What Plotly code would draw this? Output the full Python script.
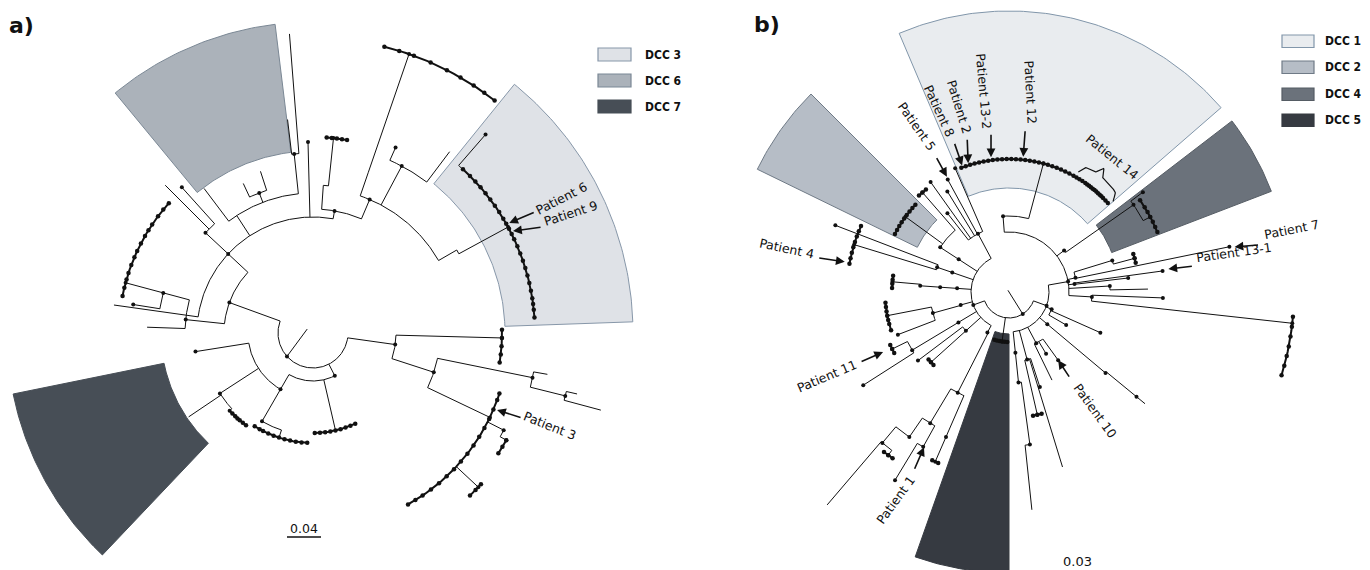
import numpy as np
import plotly.graph_objects as go

# ------------------------------------------------------------------ data
# Panel centres (pixel space of the 1370x570 canvas)
CENTER_A = (313, 333)
CENTER_B = (1009, 292)

# Shaded clade wedges: radius in / out (px), angular extent (deg, counter-clockwise from east)
WEDGE_A_NAMES = ["DCC 3", "DCC 6", "DCC 7"]
WEDGE_A_R_IN = [192, 182, 152]
WEDGE_A_R_OUT = [320, 311, 306]
WEDGE_A_FROM = [2, 97, 191.5]
WEDGE_A_TO = [51, 129.5, 226.5]

WEDGE_B_NAMES = ["DCC 1", "DCC 2", "DCC 4", "DCC 5"]
WEDGE_B_R_IN = [104, 102, 110, 42]
WEDGE_B_R_OUT = [281, 280, 281, 281]
WEDGE_B_FROM = [41, 135, 21, 250.5]
WEDGE_B_TO = [113, 154, 37.5, 270]

# Tree a): node, parent, angle (deg), distance from centre, node dot
TREE_A = [
    ("R", None, 222, 35, 1),
    ("L", "R", 160, 89, 1),
    ("B", "R", 297, 48, 1),
    ("RT", "R", 352, 83, 1),
    ("L2", "L", 174, 128, 1),
    ("L2a", "L2", 165, 155, 1),
    ("L2a1", "L2a", 165, 194, 1),
    ("L2a2", "L2a", 171, 182, 1),
    ("L2b", "L2", 178, 166, 0),
    ("L1", "L", 137, 116, 1),
    ("L1a", "L1", 172, 201, 0),
    ("L1b", "L1", 137, 147, 1),
    ("L1b1", "L1b", 132, 196, 1),
    ("L1b2", "L1b", 135, 209, 0),
    ("L1c", "L1", 123, 140, 0),
    ("L1c1", "L1c", 127, 181, 0),
    ("L1c2", "L1c", 111, 150, 1),
    ("L1c2a", "L1c2", 108, 170, 0),
    ("L1c2b", "L1c2", 115, 165, 0),
    ("L1c3", "L1c", 96, 180, 1),
    ("L1c3a", "L1c3", 94.5, 300, 0),
    ("L1c3b", "L1c3", 96.8, 215, 0),
    ("L1d", "L1", 91.5, 191, 1),
    ("L1e", "L1", 80, 124, 1),
    ("L1e1", "L1e", 86, 148, 0),
    ("L1e1a", "L1e1", 84, 196, 1),
    ("L1e2", "L1e", 67, 145, 1),
    ("T1", "L1e2", 71, 170, 0),
    ("T1a", "T1", 71, 295, 1),
    ("U1", "L1e2", 62, 189, 1),
    ("U1a", "U1", 53, 227, 0),
    ("U1b", "U1", 66, 203, 1),
    ("D3", "L1e2", 30, 166, 0),
    ("D3a", "D3", 28.5, 222, 1),
    ("D3b", "D3a", 49, 263, 1),
    ("B1", "B", 240, 65, 1),
    ("B1a", "B1", 189, 119, 1),
    ("B1b", "B1", 213, 111, 1),
    ("B1b1", "B1b", 214, 150, 0),
    ("B1b2", "B1b", 223, 114, 1),
    ("B1c", "B1", 240, 102, 1),
    ("B1c1", "B1c", 252, 110, 0),
    ("B2", "B", 283, 100, 0),
    ("RT1", "RT", 358.5, 189, 1),
    ("RT2", "RT", 342, 127, 1),
    ("RT2a", "RT2", 348.5, 224, 1),
    ("RT2a1", "RT2a", 350, 238, 0),
    ("RT2a2", "RT2a", 346, 260, 1),
    ("RT2a2a", "RT2a2", 347, 271, 0),
    ("RT2a2b", "RT2a2", 345, 298, 0),
    ("RT2b", "RT2", 334.5, 196, 1),
    ("RT2b1", "RT2b", 333, 214, 1),
    ("RT2b1a", "RT2b1", 331, 221, 1),
    ("RT2b2", "RT2b", 317, 226, 1),
]
CLUSTERS_A = {
    "L2a1": [138, 140.5, 143, 146, 148, 150, 152.5, 155, 157, 159.5, 162, 164, 166.5, 169],
    "L1e1a": [80, 81.5, 83, 84.5, 86],
    "T1a": [52, 54.5, 57, 60, 63, 66.5, 70, 73, 76],
    "D3a": [4, 6, 7.5, 9, 11, 13, 15, 17, 19, 21, 23, 25, 26.5, 28, 29.5, 31, 33, 35, 37,
            39, 41, 43, 45, 47.5],
    "B1b2": [225, 227, 228.5, 230, 232, 234],
    "B1c1": [238, 241, 243, 246, 249, 252, 255, 258, 261, 264, 267],
    "B2": [271, 274, 277, 280, 283, 286, 289, 292, 295],
    "RT1": [351, 353.5, 356, 358.5, 361],
    "RT2b": [299, 301.5, 304, 307, 310, 313, 316, 319, 322, 325, 328, 331, 334, 337, 340, 342],
    "RT2b1a": [327, 329, 331],
    "RT2b2": [314, 316, 318],
}
ROOT_STUB_A = [(146, 7), (222, 35)]

# Tree b)
TREE_B = [
    ("R", None, 302, 26, 1),
    ("W", "R", 200, 38, 1),
    ("E", "R", 340, 40, 1),
    ("R5", "R", 262, 50, 1),
    ("W1", "W", 118, 66, 1),
    ("P5a", "W1", 113.5, 135, 1),
    ("P5b", "W1", 118.6, 128, 1),
    ("P5c", "W1", 121.5, 118, 1),
    ("P5d", "W1", 125.5, 135, 1),
    ("P5e", "W1", 128, 100, 1),
    ("W2", "W", 147, 60, 1),
    ("W2a", "W2", 147, 82, 1),
    ("W2b", "W2a", 144, 128, 1),
    ("W2c", "W2a", 131, 132, 1),
    ("W3", "W", 161, 60, 1),
    ("W3a", "W3", 161, 76, 1),
    ("W3b", "W3a", 163, 162, 1),
    ("W3c", "W3a", 159, 186, 1),
    ("W4", "W", 176, 52, 1),
    ("W4a", "W4", 176, 69, 1),
    ("W4b", "W4a", 176, 89, 1),
    ("W4c", "W4b", 175, 117, 1),
    ("W5", "W", 195, 50, 1),
    ("W5a", "W5", 195.5, 79, 1),
    ("W5b", "W5a", 191, 124, 1),
    ("W5c", "W5a", 201, 119, 1),
    ("W6", "W", 211, 59, 1),
    ("W6a", "W6", 211, 113, 1),
    ("W6b", "W6a", 206, 130, 1),
    ("W6c", "W6a", 212.6, 173, 1),
    ("W7", "W", 222, 58, 1),
    ("W7a", "W7", 217, 114, 1),
    ("W7b", "W7", 222, 105, 1),
    ("W8", "W", 242, 46, 1),
    ("N1", "W8", 243, 113, 1),
    ("N2", "N1", 239, 153, 1),
    ("N3", "N1", 246.5, 158, 1),
    ("N3a", "N3", 246.5, 185, 1),
    ("N4", "N2", 235.5, 176, 1),
    ("N5", "N4", 230, 197, 1),
    ("N5a", "N5", 229.5, 280, 0),
    ("N5b", "N5", 233.5, 203, 1),
    ("N6", "N2", 241, 177, 1),
    ("N6a", "N6", 238.8, 220, 1),
    ("E1", "E", 276, 61, 1),
    ("E1a", "E1", 276, 91, 1),
    ("E1b", "E1a", 277.8, 154, 1),
    ("E1c", "E1b", 276, 219, 0),
    ("E2", "E", 285, 70, 1),
    ("E2a", "E2", 283, 126, 1),
    ("E2b", "E2", 288, 100, 1),
    ("E2c", "E2", 287, 183, 0),
    ("E3", "E", 298, 58, 1),
    ("E3a", "E3", 296, 98, 0),
    ("E3b", "E3", 305.8, 84, 1),
    ("E3c", "E3", 301, 72, 1),
    ("E4", "E", 320, 50, 1),
    ("E4a", "E4", 320, 126, 1),
    ("E4b", "E4a", 320.6, 165, 1),
    ("E4c", "E4b", 320.6, 176, 0),
    ("E5", "E", 338, 46, 1),
    ("E5a", "E5", 336, 100, 1),
    ("E5b", "E5", 330, 66, 1),
    ("NE", "E", 10, 60, 1),
    ("NE1", "NE", 356.6, 83, 1),
    ("NE1a", "NE1", 353.7, 285, 1),
    ("NE1b", "NE1", 357.8, 154, 1),
    ("NE2", "NE", 3.4, 101, 1),
    ("NE2a", "NE2", 1.2, 139, 0),
    ("NE3", "NE", 7, 66, 1),
    ("NE3a", "NE3", 6.7, 120, 1),
    ("P13_1", "NE3", 7.8, 155, 1),
    ("NE4", "NE", 12, 68, 1),
    ("P7", "NE4", 11.6, 225, 1),
    ("NE4b", "NE4", 17, 108, 1),
    ("NE4c", "NE4b", 15, 130, 1),
    ("NE5", "NE", 37, 69, 1),
    ("NE5a", "NE5", 35, 152, 1),
    ("NE5b", "NE5a", 28, 160, 1),
    ("NE5c", "NE5a", 36.7, 167, 1),
    ("U", "NE", 94.5, 76, 1),
    ("D1", "U", 75, 133, 1),
]
CLUSTERS_B = {
    "R5": [253, 256, 259, 262, 265, 268],
    "D1": [42, 43.5, 45, 46, 47, 48, 49, 50, 51, 52, 53, 54, 55, 56.5, 58, 59.5, 61, 63, 65,
           67, 69, 71, 73, 75, 77, 79, 81, 83, 85, 87, 89, 91, 93, 95, 97, 99, 101, 103,
           105, 107, 109, 111],
    "W2b": [137, 139, 141, 143, 145, 147, 149, 151, 153],
    "W2c": [129, 131, 133],
    "W3b": [156, 158, 160, 162, 164, 166, 168, 170],
    "W4c": [172, 174, 176, 178],
    "W5b": [185, 187, 189, 191, 193, 195, 198],
    "W6b": [204, 206, 208],
    "W7b": [220, 222, 224],
    "N5b": [232, 233.5, 235],
    "N3a": [245.5, 247.5],
    "E2a": [281, 283, 285],
    "NE1a": [343, 345, 347, 349, 351, 353, 355],
    "NE4c": [13, 15, 17],
    "NE5b": [22, 24, 26, 28, 30, 32, 35],
}
ROOT_STUB_B = [(122, 2), (302, 26)]

# Patient call-outs: label, arrow head (deg, r)
CALLOUT_A = ["Patient 6", "Patient 9", "Patient 3"]
CALLOUT_A_HEAD = [(29.3, 225), (27.0, 224.5), (337.3, 199.5)]
CALLOUT_B = ["Patient 4", "Patient 5", "Patient 8", "Patient 2", "Patient 13-2", "Patient 12",
             "Patient 7", "Patient 13-1", "Patient 11", "Patient 1", "Patient 10"]
CALLOUT_B_HEAD = [(169.6, 167), (118.3, 131), (110.3, 135), (107.6, 135), (97.6, 136),
                  (84.0, 136), (11.3, 230), (8.2, 161), (205.5, 139.5), (241.3, 177),
                  (305.8, 84)]
BRACE_B = ("Patient 14", 41, 60, 137)  # label, from deg, to deg, base radius

SCALE_A = "0.04"
SCALE_B = "0.03"

# ------------------------------------------------------------------ styles / layout
FILL_A = ["#dfe2e7", "#abb2ba", "#474e56"]
EDGE_A = ["#8797a9", "#7b8895", "#474e56"]
FILL_B = ["#e9ecef", "#b6bdc6", "#6b727b", "#363a41"]
EDGE_B = ["#8196aa", "#6f7a86", "#555c64", "#363a41"]

# callout layout: arrow tail offset, text-centre offset (px, from the arrow head), text angle
CALLOUT_A_TAIL = [(26, -11), (29, -4), (25, 8)]
CALLOUT_A_TEXT = [(52, -24), (57, -18), (52, 16)]
CALLOUT_A_ROT = [-27, -18, 22]
CALLOUT_B_TAIL = [(-27, -4), (-11, -20), (-8, -23), (-1, -25), (0, -24), (2, -27),
                  (25, -2), (25, -3), (-23, 10), (-10, 23), (12, 18)]
CALLOUT_B_TEXT = [(-58, -13), (-30, -50), (-23, -55), (-9, -57), (-7, -66), (7, -65),
                  (57, -17), (66, -17), (-57, 24), (-29, 53), (37, 50)]
CALLOUT_B_ROT = [12, 55, 65, 73, 85, 87, -11, -8, -23, -54, 54]

LABEL_FONT = "DejaVu Sans, Verdana, sans-serif"
LEGEND_FONT = "Liberation Sans Narrow, DejaVu Sans Condensed, Roboto Condensed, Roboto, sans-serif"


def pol(center, deg, r):
    t = np.deg2rad(np.asarray(deg, dtype=float))
    r = np.asarray(r, dtype=float)
    return center[0] + r * np.cos(t), center[1] - r * np.sin(t)


def arc(center, r, d0, d1, step=0.75):
    n = max(2, int(abs(d1 - d0) / step) + 2)
    return pol(center, np.linspace(d0, d1, n), np.full(n, r))


def wrap(d):
    return ((d + 180.0) % 360.0) - 180.0


def wedge_trace(center, rin, rout, d0, d1, fill, edge):
    ox, oy = arc(center, rout, d0, d1)
    ix, iy = arc(center, rin, d1, d0)
    xs = list(ox) + list(ix) + [ox[0]]
    ys = list(oy) + list(iy) + [oy[0]]
    return go.Scatter(x=xs, y=ys, mode="lines", fill="toself", fillcolor=fill,
                      line=dict(color=edge, width=1), hoverinfo="skip")


def tree_traces(edges, clusters, center, stub):
    info = {e[0]: e for e in edges}
    kids = {}
    for n, p, a, d, dot in edges:
        if p is not None:
            kids.setdefault(p, []).append(n)
    lx, ly, cx, cy, nx, ny, tx, ty = [], [], [], [], [], [], [], []
    for n, p, a, d, dot in edges:
        if p is not None:
            x, y = pol(center, [a, a], [info[p][3], d])
            lx += list(x) + [None]
            ly += list(y) + [None]
        offs = [0.0] + [wrap(info[c][2] - a) for c in kids.get(n, [])]
        if max(offs) - min(offs) > 0:
            x, y = arc(center, d, a + min(offs), a + max(offs))
            lx += list(x) + [None]
            ly += list(y) + [None]
        if n in clusters:
            toffs = [wrap(t - a) for t in clusters[n]]
            x, y = arc(center, d, a + min(toffs + [0]), a + max(toffs + [0]))
            cx += list(x) + [None]
            cy += list(y) + [None]
            x, y = pol(center, clusters[n], [d] * len(clusters[n]))
            tx += list(x)
            ty += list(y)
        if dot:
            x, y = pol(center, [a], [d])
            nx += list(x)
            ny += list(y)
    sx, sy = pol(center, [s[0] for s in stub], [s[1] for s in stub])
    lx += list(sx) + [None]
    ly += list(sy) + [None]
    return [
        go.Scatter(x=lx, y=ly, mode="lines", line=dict(color="#111111", width=1),
                   hoverinfo="skip"),
        go.Scatter(x=cx, y=cy, mode="lines", line=dict(color="#111111", width=2),
                   hoverinfo="skip"),
        go.Scatter(x=nx, y=ny, mode="markers", marker=dict(color="#111111", size=4),
                   hoverinfo="skip"),
        go.Scatter(x=tx, y=ty, mode="markers", marker=dict(color="#111111", size=4.5),
                   hoverinfo="skip"),
    ]


fig = go.Figure()

for i in range(len(WEDGE_A_NAMES)):
    fig.add_trace(wedge_trace(CENTER_A, WEDGE_A_R_IN[i], WEDGE_A_R_OUT[i], WEDGE_A_FROM[i],
                              WEDGE_A_TO[i], FILL_A[i], EDGE_A[i]))
for i in range(len(WEDGE_B_NAMES)):
    fig.add_trace(wedge_trace(CENTER_B, WEDGE_B_R_IN[i], WEDGE_B_R_OUT[i], WEDGE_B_FROM[i],
                              WEDGE_B_TO[i], FILL_B[i], EDGE_B[i]))

for tr in tree_traces(TREE_A, CLUSTERS_A, CENTER_A, ROOT_STUB_A):
    fig.add_trace(tr)
for tr in tree_traces(TREE_B, CLUSTERS_B, CENTER_B, ROOT_STUB_B):
    fig.add_trace(tr)

# brace for Patient 14
label14, b0, b1, br = BRACE_B
prof_t = np.array([0.0, 0.06, 0.33, 0.39, 0.45, 0.9, 1.0])
prof_h = np.array([0.0, 9.0, 11.0, 23.0, 11.0, 9.0, 0.0])
tt = np.linspace(0, 1, 80)
hh = np.interp(tt, prof_t, prof_h)
hh = np.convolve(np.pad(hh, 3, mode="edge"), np.ones(7) / 7, mode="valid")
bx, by = pol(CENTER_B, b1 + (b0 - b1) * tt, br + hh)
fig.add_trace(go.Scatter(x=bx, y=by, mode="lines", line=dict(color="#111111", width=1.2),
                         hoverinfo="skip"))

annotations = []
shapes = []


def add_callouts(center, labels, heads, tails, texts, rots, size):
    for lab, (d, r), (tdx, tdy), (xdx, xdy), rot in zip(labels, heads, tails, texts, rots):
        hx, hy = pol(center, [d], [r])
        hx, hy = float(hx[0]), float(hy[0])
        annotations.append(dict(x=hx, y=hy, ax=hx + tdx, ay=hy + tdy, xref="x", yref="y",
                                axref="x", ayref="y", text="", showarrow=True,
                                arrowhead=2, arrowsize=1.1, arrowwidth=1.6,
                                arrowcolor="#111111", standoff=0))
        annotations.append(dict(x=hx + xdx, y=hy + xdy, xref="x", yref="y", text=lab,
                                showarrow=False, textangle=rot,
                                font=dict(family=LABEL_FONT, size=size, color="#111111")))


add_callouts(CENTER_A, CALLOUT_A, CALLOUT_A_HEAD, CALLOUT_A_TAIL, CALLOUT_A_TEXT,
             CALLOUT_A_ROT, 12.5)
add_callouts(CENTER_B, CALLOUT_B, CALLOUT_B_HEAD, CALLOUT_B_TAIL, CALLOUT_B_TEXT,
             CALLOUT_B_ROT, 12.5)
annotations.append(dict(x=1112, y=156, xref="x", yref="y", text=label14, showarrow=False,
                        textangle=39,
                        font=dict(family=LABEL_FONT, size=12.5, color="#111111")))

# panel letters
annotations.append(dict(x=21, y=25, xref="x", yref="y", text="<b>a)</b>", showarrow=False,
                        font=dict(family="DejaVu Sans, sans-serif", size=22, color="#111111")))
annotations.append(dict(x=767, y=24, xref="x", yref="y", text="<b>b)</b>", showarrow=False,
                        font=dict(family="DejaVu Sans, sans-serif", size=22, color="#111111")))

# scale bars
annotations.append(dict(x=304, y=528, xref="x", yref="y", text=SCALE_A, showarrow=False,
                        font=dict(family=LABEL_FONT, size=12.5, color="#111111")))
shapes.append(dict(type="line", xref="x", yref="y", x0=287, x1=321, y0=537, y1=537,
                   line=dict(color="#111111", width=1.5)))
annotations.append(dict(x=1077, y=561, xref="x", yref="y", text=SCALE_B, showarrow=False,
                        font=dict(family=LABEL_FONT, size=13, color="#111111")))


# legends
def add_legend(names, fills, edges, x0, x1, y0s, h, tx):
    for nm, fc, ec, y0 in zip(names, fills, edges, y0s):
        shapes.append(dict(type="rect", xref="x", yref="y", x0=x0, x1=x1, y0=y0, y1=y0 + h,
                           fillcolor=fc, line=dict(color=ec, width=1.2)))
        annotations.append(dict(x=tx, y=y0 + h / 2, xref="x", yref="y", text="<b>%s</b>" % nm,
                                showarrow=False, xanchor="left",
                                font=dict(family=LEGEND_FONT, size=12, color="#111111")))


add_legend(WEDGE_A_NAMES, FILL_A, EDGE_A, 598, 631, [48, 74, 100], 13, 643)
add_legend(WEDGE_B_NAMES, FILL_B, EDGE_B, 1282, 1314, [35, 61, 88, 114], 12.5, 1323)

fig.update_layout(
    width=1370, height=570, margin=dict(l=0, r=0, t=0, b=0),
    xaxis=dict(range=[0, 1370], visible=False, fixedrange=True),
    yaxis=dict(range=[570, 0], visible=False, fixedrange=True),
    plot_bgcolor="white", paper_bgcolor="white", showlegend=False,
    annotations=annotations, shapes=shapes,
)

fig.write_html("out.html", config={"displayModeBar": False},
               post_script="document.body.style.margin='0';document.body.style.overflow='hidden';")
